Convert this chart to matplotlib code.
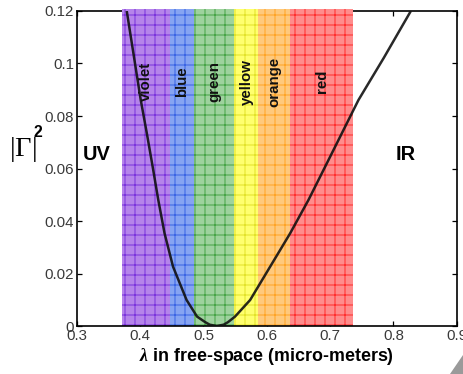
import numpy as np
import matplotlib
matplotlib.use("Agg")
import matplotlib.pyplot as plt
from matplotlib.patches import Polygon

# reflectance curve (wavelength in micro-meters)
LAM = [0.3790, 0.4011, 0.4107, 0.4199, 0.4288, 0.4387, 0.4521, 0.4735, 0.4900,
       0.5027, 0.5100, 0.5212, 0.5320, 0.5390, 0.5500, 0.5738, 0.6054, 0.6370,
       0.6659, 0.6923, 0.7186, 0.7449, 0.7850, 0.8276]
GAMMA2 = [0.1200, 0.0861, 0.0734, 0.0607, 0.0480, 0.0353, 0.0226, 0.0099, 0.0036,
          0.0015, 0.0005, 0.0, 0.0005, 0.0015, 0.0036, 0.0099, 0.0226, 0.0353,
          0.0480, 0.0607, 0.0734, 0.0861, 0.1022, 0.1200]

# visible colour bands
BAND_NAMES = ["violet", "blue", "green", "yellow", "orange", "red"]
BAND_EDGES = [0.372, 0.447, 0.485, 0.549, 0.587, 0.637, 0.737]
BAND_FACE = ["#b584ea", "#86a4f2", "#9ed29e", "#ffff6e", "#ffc97c", "#ff8c8c"]
BAND_LINE = ["#7a34dc", "#3a64e4", "#47a447", "#e2e22a", "#ffa425", "#ff2e2e"]

XTICKS = [0.3, 0.4, 0.5, 0.6, 0.7, 0.8, 0.9]
XTICKLABELS = ["0.3", "0.4", "0.5", "0.6", "0.7", "0.8", "0.9"]
YTICKS = [0, 0.02, 0.04, 0.06, 0.08, 0.1, 0.12]
YTICKLABELS = ["0", "0.02", "0.04", "0.06", "0.08", "0.1", "0.12"]

DPI = 60  # hatch '+' then gives a 10 px grid, like the reference
plt.rcParams["font.family"] = ["Liberation Sans", "DejaVu Sans"]
plt.rcParams["hatch.linewidth"] = 1.2
plt.rcParams["mathtext.fontset"] = "custom"
plt.rcParams["mathtext.rm"] = "Liberation Serif"
plt.rcParams["mathtext.it"] = "Liberation Serif:italic:bold"

fig = plt.figure(figsize=(463 / DPI, 374 / DPI), dpi=DPI)
ax = fig.add_axes([0.1657, 0.1283, 0.8207, 0.8423])

for name, x0, x1, fc, lc in zip(BAND_NAMES, BAND_EDGES[:-1], BAND_EDGES[1:],
                                BAND_FACE, BAND_LINE):
    ax.axvspan(x0, x1, 0, 1.007, facecolor=fc, edgecolor=lc, hatch="+",
               linewidth=0, clip_on=False, zorder=3)
    ax.text((x0 + x1) / 2, 0.0931, name, rotation=90, ha="center", va="center",
            fontsize=18, fontweight="bold", color="#111111", zorder=6)

ax.plot(LAM, GAMMA2, color="#111111", linewidth=3, alpha=0.9, zorder=5,
        solid_joinstyle="round", solid_capstyle="butt")

ax.text(0.331, 0.0653, "UV", ha="center", va="center", fontsize=24,
        fontweight="bold", zorder=6)
ax.text(0.819, 0.0653, "IR", ha="center", va="center", fontsize=24,
        fontweight="bold", zorder=6)

ax.set_xlim(0.3, 0.9)
ax.set_ylim(0, 0.12)
ax.set_xticks(XTICKS)
ax.set_xticklabels(XTICKLABELS)
ax.set_yticks(YTICKS)
ax.set_yticklabels(YTICKLABELS)
ax.tick_params(direction="in", length=6, width=1.5, top=True, right=True,
               labelsize=18, labelcolor="#3a3a3a", pad=3)
for sp in ax.spines.values():
    sp.set_linewidth(2)
ax.spines["bottom"].set_zorder(4)

ax.set_xlabel(r"$\lambda$ in free-space (micro-meters)", fontsize=21.5,
              fontweight="bold", labelpad=4)
# |Gamma|^2 label, horizontal, left of the axis
ax.text(-0.143, 0.56, r"$|\Gamma|$", transform=ax.transAxes, ha="center",
        va="center", fontsize=34)
ax.text(-0.114, 0.615, "2", transform=ax.transAxes, ha="left",
        va="center", fontsize=19, fontweight="bold")

# grey corner shading of the original slide
fig.patches.append(Polygon([[450 / 463, 0], [1, 19 / 374], [1, 0]], closed=True,
                           transform=fig.transFigure, facecolor="#9a9a9a",
                           edgecolor="none"))

fig.savefig("out.png", dpi=DPI, facecolor="white")
